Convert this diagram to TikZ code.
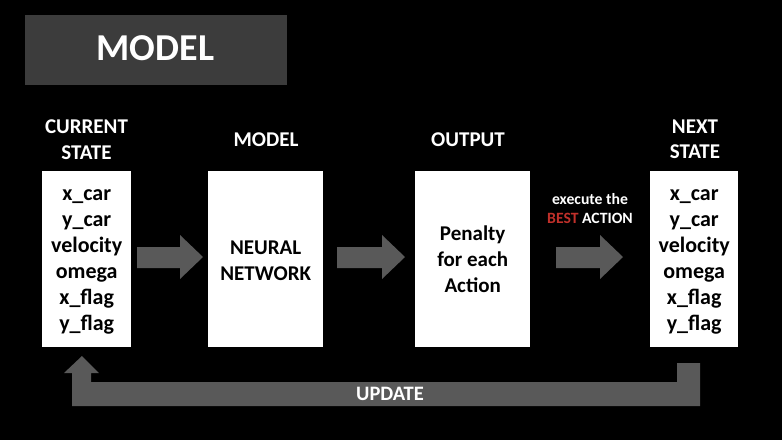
\documentclass[tikz,border=0pt]{standalone}
\usepackage{fontspec}
\setmainfont{Carlito}
\definecolor{titlegray}{HTML}{3C3C3C}
\definecolor{arrowgray}{HTML}{595959}
\definecolor{bestred}{HTML}{C0302A}
\begin{document}
\begin{tikzpicture}[x=1pt,y=-1pt,
  whitebox/.style={fill=white,draw=none,inner sep=0pt,anchor=north west},
  boxtext/.style={align=center,text=black,inner sep=0pt,font=\fontsize{22}{26}\selectfont\bfseries},
  head/.style={text=white,align=center,inner sep=0pt,font=\fontsize{21}{25.5}\selectfont\bfseries},
  blockarrow/.style={fill=arrowgray}]
\fill[black] (0,0) rectangle (782,440);
\useasboundingbox (0,0) rectangle (782,440);
% title
\node[fill=titlegray,anchor=north west,minimum width=262pt,minimum height=70pt,inner sep=0pt] (title) at (25,15) {};
\node[text=white,font=\fontsize{38}{40}\selectfont\bfseries,inner sep=0pt] (titletext) at (155.5,48.5) {MODEL};
% boxes
\node[whitebox,minimum width=89pt,minimum height=176pt] (cur) at (42,171) {};
\node[whitebox,minimum width=115pt,minimum height=176pt] (nn) at (208,171) {};
\node[whitebox,minimum width=115pt,minimum height=176pt] (out) at (415,171) {};
\node[whitebox,minimum width=88pt,minimum height=176pt] (next) at (650,171) {};
\node[boxtext] (curtext) at ([yshift=-3pt]cur.center) {x\_car\\y\_car\\velocity\\omega\\x\_flag\\y\_flag};
\node[boxtext,font=\fontsize{21}{26}\selectfont\bfseries] (nntext) at ([yshift=-2pt]nn.center) {NEURAL\\NETWORK};
\node[boxtext,font=\fontsize{21}{26}\selectfont\bfseries] (outtext) at (out.center) {Penalty\\for each\\Action};
\node[boxtext] (nexttext) at ([yshift=-3pt]next.center) {x\_car\\y\_car\\velocity\\omega\\x\_flag\\y\_flag};
% headers
\node[head] (hcur) at (86.5,139.5) {CURRENT\\STATE};
\node[head] (hnn) at (266,139.5) {MODEL};
\node[head] (hout) at (468,139.5) {OUTPUT};
\node[head] (hnext) at (695,139.5) {NEXT\\STATE};
% block arrows
\foreach \xa/\xb/\xc/\nm in {137/180/203/a1, 337/382/405/a2, 556/600/623/a3}{
  \fill[blockarrow] (\xa,247) -- (\xb,247) -- (\xb,235) -- (\xc,257) -- (\xb,279) -- (\xb,268) -- (\xa,268) -- cycle;
}
\node[text=white,align=center,inner sep=0pt,font=\fontsize{15.7}{19}\selectfont\bfseries] (exec) at (590,208.5) {execute the\\\textcolor{bestred}{BEST} ACTION};
% update arrow
\fill[arrowgray] (700,363) -- (700,406) -- (72,406) -- (72,373) -- (64,373) -- (82,356) -- (99,373) -- (91,373) -- (91,382) -- (677,382) -- (677,363) -- cycle;
\node[text=white,inner sep=0pt,font=\fontsize{20.5}{22}\selectfont\bfseries] (upd) at (390,394) {UPDATE};
\end{tikzpicture}
\end{document}
